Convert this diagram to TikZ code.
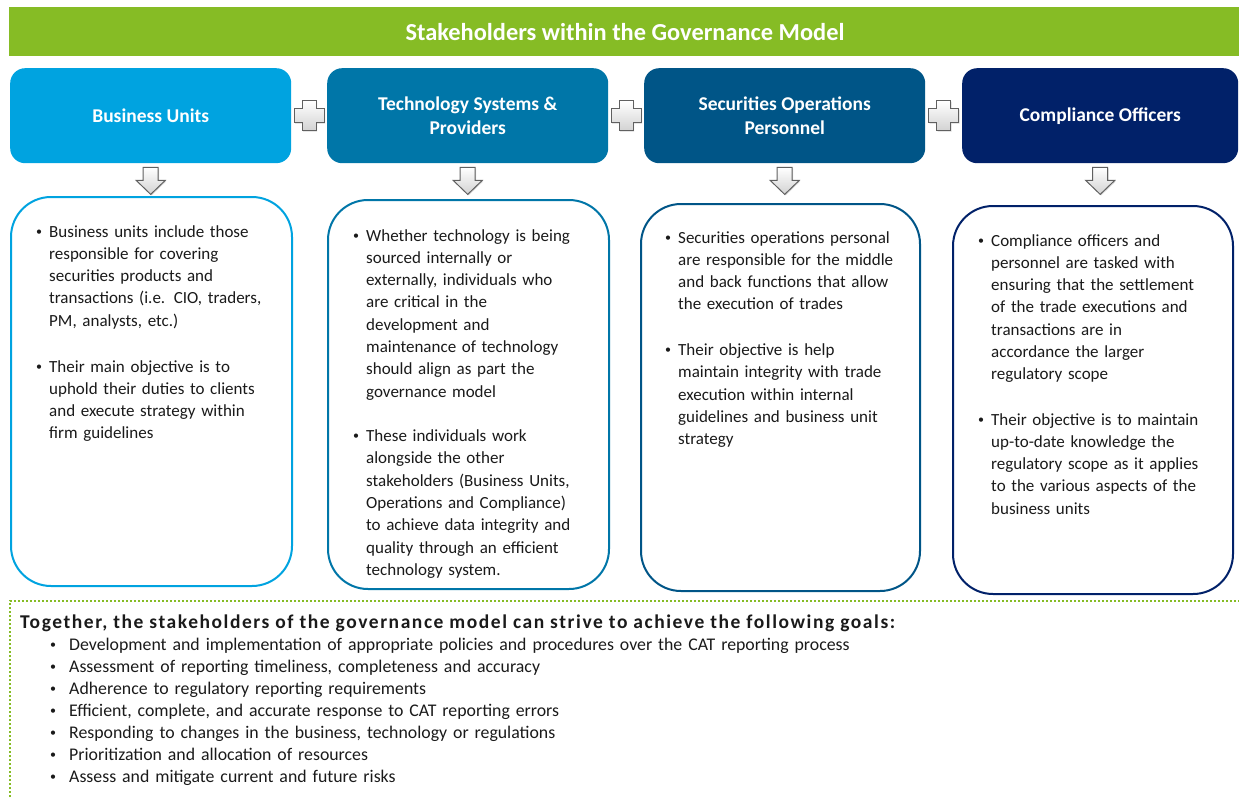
\documentclass[tikz,border=0pt]{standalone}
\usepackage{fontspec}
\setmainfont{Carlito}
\usetikzlibrary{calc,shadows}
\definecolor{dgreen}{HTML}{86BC25}
\definecolor{cA}{HTML}{00A3E0}
\definecolor{cB}{HTML}{0076A8}
\definecolor{cC}{HTML}{005587}
\definecolor{cD}{HTML}{012169}
\definecolor{txt}{HTML}{1A1A1A}
\newcommand{\bl}[2]{\makebox[#1][l]{\hspace{#2}\raisebox{1.6pt}{\fontsize{12}{12}\selectfont\textbullet}}}
\newcommand{\hang}{\hangindent=16pt\hangafter=1\relax}
\newcommand{\itm}{\hang\bl{16pt}{2.8pt}}
\newcommand{\gl}{\hspace*{27.6pt}\bl{21.4pt}{2.4pt}}
\begin{document}
\begin{tikzpicture}[x=1pt,y=-1pt,
  hbox/.style={rounded corners=15pt, minimum width=281pt, minimum height=95pt, anchor=north west,
    text=white, font=\fontsize{19.5}{24}\selectfont\bfseries, align=center, inner sep=0pt},
  cbox/.style={rounded corners=40pt, line width=2pt, fill=white, anchor=north west, inner sep=0pt},
  btxt/.style={anchor=base west, inner sep=0pt, text width=300pt,
    font=\fontsize{17}{22.3}\selectfont, text=txt},
  crossst/.style={draw=gray!75!black, line width=1pt, top color=white, bottom color=gray!35,
    drop shadow={shadow xshift=1pt,shadow yshift=-1pt,opacity=0.3}},
  arrowst/.style={draw=gray!75!black, line width=1pt, top color=white, bottom color=gray!35,
    drop shadow={shadow xshift=1pt,shadow yshift=-1pt,opacity=0.3}},
]
\useasboundingbox (0,0) rectangle (1239,798);
\clip (0,0) rectangle (1239,798);

% title bar
\fill[dgreen] (9,7) rectangle (1245,56);
\node[text=white, font=\fontsize{24.4}{28}\selectfont\bfseries] (title) at (625,32) {Stakeholders within the Governance Model};

% header boxes
\node[hbox, fill=cA] (h1) at (10,68) {Business Units};
\node[hbox, fill=cB] (h2) at (327,68) {Technology Systems \&\\Providers};
\node[hbox, fill=cC] (h3) at (644,68) {Securities Operations\\Personnel};
\node[hbox, fill=cD, minimum width=276pt] (h4) at (962,68) {Compliance Officers};

% content boxes
\node[cbox, draw=cA, minimum width=281pt, minimum height=389pt] (c1) at (10,196) {};
\node[cbox, draw=cB, minimum width=281pt, minimum height=389pt] (c2) at (327,199) {};
\node[cbox, draw=cC, minimum width=279pt, minimum height=387pt] (c3) at (640,203) {};
\node[cbox, draw=cD, minimum width=280pt, minimum height=388pt] (c4) at (952,205) {};

% plus signs between header boxes
\foreach \a/\b in {h1/h2,h2/h3,h3/h4}{
  \coordinate (p) at ($(\a.east)!0.5!(\b.west)$);
  \path[crossst] ($(p)+(-7,-15)$) -- ++(14,0) -- ++(0,8) -- ++(8,0) -- ++(0,14) -- ++(-8,0)
     -- ++(0,8) -- ++(-14,0) -- ++(0,-8) -- ++(-8,0) -- ++(0,-14) -- ++(8,0) -- cycle;
}

% down arrows from header boxes to content boxes
\foreach \h/\c in {h1/c1,h2/c2,h3/c3,h4/c4}{
  \coordinate (q) at ($(\h.south)+(0,4)$);
  \path[arrowst] ($(q)+(-7.5,0)$) -- ++(15,0) -- ++(0,13) -- ++(7,0) -- ($(q)+(0,27)$)
     -- ($(q)+(-14.5,13)$) -- ++(7,0) -- cycle;
}

% content texts
\node[btxt] (t1a) at (33,237) {\itm Business units include those\newline
responsible for covering\newline securities products and\newline transactions (i.e. CIO, traders,\newline
PM, analysts, etc.)\par};
\node[btxt] (t1b) at (33,372) {\itm Their main objective is to\newline uphold their duties to clients\newline
and execute strategy within\newline firm guidelines\par};

\node[btxt] (t2a) at (350,241) {\itm Whether technology is being\newline
sourced internally or\newline externally, individuals who\newline are critical in the\newline
development and\newline maintenance of technology\newline should align as part the\newline
governance model\par};
\node[btxt] (t2b) at (350,441.5) {\itm These individuals work\newline alongside the other\newline
stakeholders (Business Units,\newline Operations and Compliance)\newline
to achieve data integrity and\newline quality through an efficient\newline technology system.\par};

\node[btxt] (t3a) at (662,243) {\itm Securities operations personal\newline
are responsible for the middle\newline and back functions that allow\newline
the execution of trades\par};
\node[btxt] (t3b) at (662,355.5) {\itm Their objective is help\newline maintain integrity with trade\newline
execution within internal\newline guidelines and business unit\newline strategy\par};

\node[btxt] (t4a) at (975,246) {\itm Compliance officers and\newline
personnel are tasked with\newline ensuring that the settlement\newline
of the trade executions and\newline transactions are in\newline
accordance the larger\newline regulatory scope\par};
\node[btxt] (t4b) at (975,425) {\itm Their objective is to maintain\newline up-to-date knowledge the\newline
regulatory scope as it applies\newline to the various aspects of the\newline business units\par};

% goals box
\draw[dgreen, line width=2pt, dash pattern=on 2pt off 2pt] (10,805) -- (10,601) -- (1250,601);
\node[btxt, text width=1200pt, font=\fontsize{17.8}{22}\selectfont] (goals) at (20,628) {%
{\fontsize{19.5}{22}\selectfont\bfseries\addfontfeatures{LetterSpace=8}Together, the stakeholders of the governance model can strive to achieve the following goals:}\newline
\gl Development and implementation of appropriate policies and procedures over the CAT reporting process\newline
\gl Assessment of reporting timeliness, completeness and accuracy\newline
\gl Adherence to regulatory reporting requirements\newline
\gl Efficient, complete, and accurate response to CAT reporting errors\newline
\gl Responding to changes in the business, technology or regulations\newline
\gl Prioritization and allocation of resources\newline
\gl Assess and mitigate current and future risks};
\end{tikzpicture}
\end{document}
